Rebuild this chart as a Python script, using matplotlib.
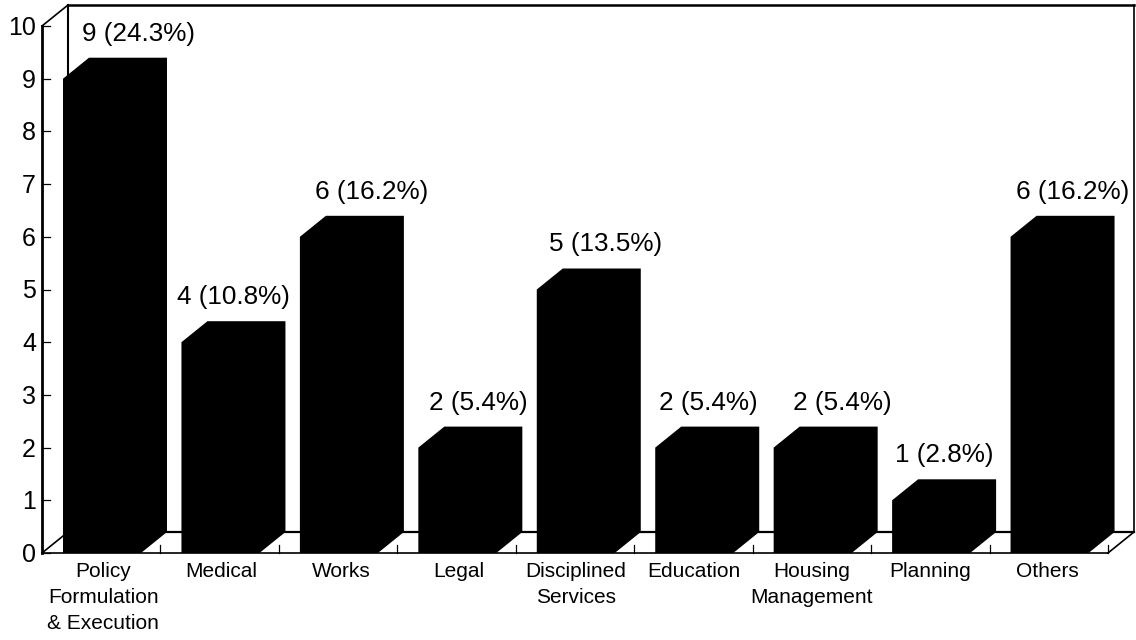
import matplotlib
matplotlib.use("Agg")
import matplotlib.pyplot as plt
from matplotlib.patches import Polygon

categories = ["Policy\nFormulation\n& Execution", "Medical", "Works", "Legal",
              "Disciplined\nServices", "Education", "Housing\nManagement",
              "Planning", "Others"]
counts = [9, 4, 6, 2, 5, 2, 2, 1, 6]
percents = [24.3, 10.8, 16.2, 5.4, 13.5, 5.4, 5.4, 2.8, 16.2]
y_ticks = list(range(0, 11))

# layout (pixels on a 1136x640 canvas)
W, H = 1136, 640
L, R, B, T = 42, 1108, 553, 26
DX, DY = 26, 21            # 3-D depth offset
BAR_L, BAR_W = 21, 78      # bar inset and width within a category slot
LABEL_DX = [10, -13, 7, -5, 4, -12, 4, -13, -3]  # value label shift from bar back centre
CAT_DX = [2, 2, 3, 2, 1, 0, 0, 0, -1]            # category label shift from slot centre

plt.rcParams["font.family"] = ["Liberation Sans", "DejaVu Sans"]
fig = plt.figure(figsize=(W / 100, H / 100), dpi=100)
ax = fig.add_axes([L / W, 1 - B / H, (R - L) / W, (B - T) / H])
ax.set_xlim(0, len(categories))
ax.set_ylim(0, 10)
ax.axis("off")

sx = (R - L) / len(categories)   # px per slot
sy = (B - T) / 10                # px per unit
dx, dy = DX / sx, DY / sy
k = dict(color="black", clip_on=False, solid_capstyle="projecting")
n = len(categories)

# frame: walls and floor
ax.plot([0, 0], [0, 10], lw=2.0, zorder=1, **k)
ax.plot([0, n], [0, 0], lw=1.2, zorder=1, **k)
ax.plot([dx, dx], [dy, 10 + dy], lw=1.5, zorder=1, **k)
ax.plot([dx, n + dx], [10 + dy, 10 + dy], lw=1.8, zorder=1, **k)
ax.plot([n + dx, n + dx], [dy, 10 + dy], lw=1.2, zorder=1, **k)
ax.plot([dx, n + dx], [dy, dy], lw=1.6, zorder=1, **k)
ax.plot([0, dx], [0, dy], lw=1.2, zorder=1, **k)
ax.plot([0, dx], [10, 10 + dy], lw=1.2, zorder=1, **k)
ax.plot([n, n + dx], [0, dy], lw=1.2, zorder=1, **k)

# ticks
for t in y_ticks:
    ax.plot([0, 8 / sx], [t, t], lw=0.9, zorder=1, **k)
    ax.text(-6 / sx, t - 2 / sy, str(t), ha="right", va="center", fontsize=18, color="black")
for i in range(1, n + 1):
    ax.plot([i, i], [0, 8 / sy], lw=0.9, zorder=1, **k)

# bars
x0off, wid = BAR_L / sx, BAR_W / sx
for i, (v, p, c) in enumerate(zip(counts, percents, categories)):
    x0 = i + x0off
    x1 = x0 + wid
    ax.add_patch(Polygon([(x0, 0), (x1, 0), (x1 + dx, dy), (x1 + dx, v + dy),
                          (x0 + dx, v + dy), (x0, v)],
                         closed=True, fc="black", ec="none", zorder=3, clip_on=False))
    ax.text((x0 + x1 + 2 * dx) / 2 + LABEL_DX[i] / sx, v + dy + 24 / sy,
            f"{v} ({p}%)", ha="center", va="center", fontsize=18.8, color="black", zorder=4)
    ax.text(i + 0.5 + CAT_DX[i] / sx, -9 / sy, c, ha="center", va="top", fontsize=15,
            color="black", linespacing=1.47)

fig.savefig("out.png", dpi=100, facecolor="white")
